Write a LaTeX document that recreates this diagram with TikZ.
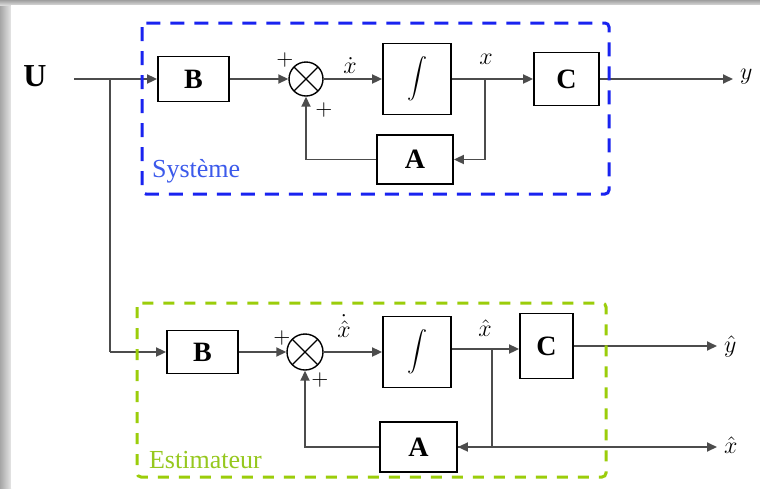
\documentclass[tikz,border=0pt]{standalone}
\usepackage{fontspec}
\setmainfont{Liberation Serif}
\usetikzlibrary{arrows.meta}
\definecolor{sysblue}{RGB}{25,35,240}
\definecolor{systext}{RGB}{60,90,235}
\definecolor{estgreen}{RGB}{155,205,10}
\definecolor{esttext}{RGB}{150,200,30}
\tikzset{
  bloc/.style={draw, line width=0.9pt, inner sep=0pt, font=\fontsize{14}{16}\selectfont\bfseries},
  integ/.style={bloc, font=\fontsize{13}{15}\selectfont},
  sumnode/.style={circle, draw, line width=0.7pt, minimum size=17pt, inner sep=0pt,
    path picture={\draw[line width=0.6pt]
      (path picture bounding box.south west) -- (path picture bounding box.north east)
      (path picture bounding box.north west) -- (path picture bounding box.south east);}},
  lien/.style={line width=0.9pt, black!70},
  signe/.style={inner sep=0pt, font=\fontsize{11}{13}\selectfont},
  etiq/.style={inner sep=1pt},
}
\begin{document}
\begin{tikzpicture}[x=0.5pt, y=-0.5pt, >={Triangle[length=5pt,width=4.5pt]},
    font=\fontsize{13}{15}\selectfont]
    \useasboundingbox (0,0) rectangle (760,488);
    % cadre
    \shade[left color=gray!70, right color=gray!20] (0,0) rectangle (11,488);
    \shade[top color=gray!75, bottom color=gray!30] (0,0) rectangle (760,5);
    \fill[white] (11,5) rectangle (760,488);

    % systeme
    \node (U) at (35,76) {\fontsize{16}{18}\selectfont\textbf{U}};
    \coordinate (u0) at (74,79);
    \coordinate (j0) at (110,79);
    \node[bloc, minimum width=35.5pt, minimum height=22.5pt] (Bs) at (193.5,79) {B};
    \node[sumnode] (Ss) at (306,79) {};
    \node[integ, minimum width=34pt, minimum height=35.5pt] (Is) at (417,79) {$\displaystyle\int$};
    \node[bloc, minimum width=32.5pt, minimum height=26.5pt] (Cs) at (566.5,79) {C};
    \node[bloc, minimum width=38pt, minimum height=24.5pt] (As) at (415,159.5) {A};
    \coordinate (jx) at (485,79);
    \node[anchor=west] (ys) at (733,77) {$y$};

    \draw[lien,->] (u0) -- (Bs);
    \draw[lien,->] (Bs) -- (Ss);
    \draw[lien,->] (Ss) -- (Is);
    \draw[lien,->] (Is) -- (Cs);
    \draw[lien,->] (Cs.east) -- (Cs.east -| ys.west);
    \draw[lien,->] (jx) |- (As);
    \draw[lien,->] (As) -| (Ss);

    \node[signe] (ps1) at (285,60) {$+$};
    \node[signe] (ps2) at (324,110) {$+$};
    \node[etiq] (xds) at (350,66) {$\dot{x}$};
    \node[etiq] (xs) at (486,59) {$x$};

    % estimateur
    \coordinate (j1) at (110,352);
    \node[bloc, minimum width=35.5pt, minimum height=21.5pt] (Be) at (202.5,352) {B};
    \node[sumnode, minimum size=18pt] (Se) at (305,352) {};
    \node[integ, minimum width=34pt, minimum height=35.5pt] (Ie) at (417,352) {$\displaystyle\int$};
    \node[bloc, minimum width=26.5pt, minimum height=32.5pt] (Ce) at (546.5,346) {C};
    \node[bloc, minimum width=38.5pt, minimum height=25pt] (Ae) at (418.5,447) {A};
    \coordinate (jxe) at (492,349);
    \node[anchor=west] (yh) at (717,346) {$\hat{y}$};
    \node[anchor=west] (xh) at (717,445) {$\hat{x}$};

    \draw[lien] (j0) -- (j1);
    \draw[lien,->] (j1) -- (Be);
    \draw[lien,->] (Be) -- (Se);
    \draw[lien,->] (Se) -- (Ie);
    \draw[lien,->] (Ie.east |- jxe) -- (Ce.west |- jxe);
    \draw[lien,->] (Ce.east |- yh) -- (yh);
    \draw[lien] (jxe) -- (jxe |- Ae);
    \draw[lien,->] (jxe |- Ae) -- (Ae);
    \draw[lien,->] (Ae.east) -- (Ae.east -| xh.west);
    \draw[lien,->] (Ae) -| (Se);

    \node[signe] (pe1) at (282,338) {$+$};
    \node[signe] (pe2) at (320,380) {$+$};
    \node[etiq] (xde) at (344,326) {$\dot{\hat{x}}$};
    \node[etiq] (xe) at (485,328) {$\hat{x}$};

    % cadres pointilles
    \draw[sysblue, line width=1.5pt, dash pattern=on 7pt off 5pt, rounded corners=2pt] (142,23) rectangle (609,194);
    \node[systext, anchor=west] (sys) at (145,171) {Système};
    \draw[estgreen, line width=1.5pt, dash pattern=on 5.5pt off 5pt, rounded corners=2pt] (137,303) rectangle (606,477);
    \node[esttext, anchor=west] (est) at (142,460) {Estimateur};
\end{tikzpicture}
\end{document}
